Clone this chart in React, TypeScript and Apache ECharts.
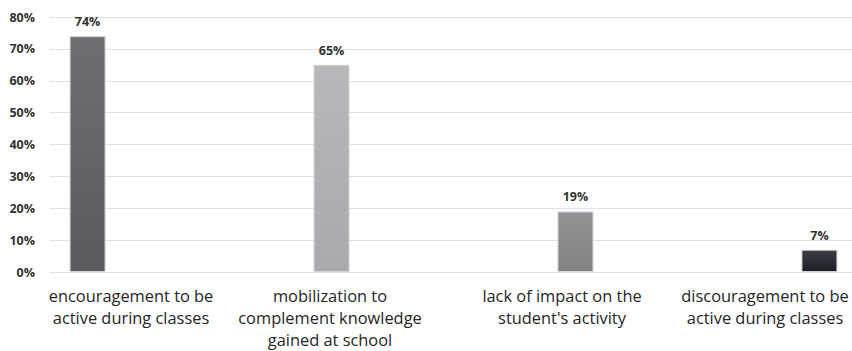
import React, { useEffect, useRef } from "react";
import * as echarts from "echarts";

const categories = [
  "encouragement to be\nactive during classes",
  "mobilization to\ncomplement knowledge\ngained at school",
  "lack of impact on the\nstudent's activity",
  "discouragement to be\nactive during classes",
];
const values = [74, 65, 19, 7];
const yTicks = [0, 10, 20, 30, 40, 50, 60, 70, 80];
const labelShift = [-6, -34, 4, -16];

const gradients = [
  ["#6f6f73", "#59595e"],
  ["#b6b8ba", "#a8aaad"],
  ["#939396", "#828285"],
  ["#3c3e44", "#1c1f26"],
];

export default function App() {
  const ref = useRef<HTMLDivElement>(null);
  useEffect(() => {
    if (!ref.current) return;
    const chart = echarts.init(ref.current, null, { renderer: "svg" });
    const font = "Open Sans";
    const series = values.map((v, i) => ({
      type: "bar",
      xAxisIndex: 0,
      yAxisIndex: 0,
      barWidth: 36,
      barGap: "-14%",
      data: values.map((_, j) => (j === i ? v : "-")),
      itemStyle: {
        color: new echarts.graphic.LinearGradient(0, 0, 0, 1, [
          { offset: 0, color: gradients[i][0] },
          { offset: 1, color: gradients[i][1] },
        ]),
        borderColor: "#d4d4d4",
        borderWidth: 1,
      },
      label: {
        show: true,
        position: "top",
        distance: 8,
        formatter: "{c}%",
        fontFamily: font,
        fontWeight: "bold",
        fontSize: 12.5,
        color: "#333",
      },
    }));
    const rich: any = {};
    labelShift.forEach((s, i) => {
      rich["c" + i] = {
        fontFamily: font,
        fontSize: 16.4,
        lineHeight: 22,
        color: "#262626",
        padding: s < 0 ? [0, -s, 0, 0] : [0, 0, 0, s],
      };
    });
    chart.setOption({
      animation: false,
      grid: [
        { left: 27.5, width: 852, top: 17, bottom: 79, outerBoundsMode: "none" },
        { left: 50, right: 0, top: 17, bottom: 79, outerBoundsMode: "none" },
      ],
      xAxis: [
        {
          type: "category",
          gridIndex: 0,
          data: categories,
          axisLine: { show: false },
          axisTick: { show: false },
          axisLabel: {
            interval: 0,
            margin: 12,
            formatter: (val: string, idx: number) =>
              val
                .split("\n")
                .map((l) => `{c${idx}|${l}}`)
                .join("\n"),
            rich,
          },
        },
        { type: "value", gridIndex: 1, show: false },
      ],
      yAxis: [
        { type: "value", gridIndex: 0, min: 0, max: 80, interval: 10, show: false },
        {
          type: "value",
          gridIndex: 1,
          min: yTicks[0],
          max: yTicks[yTicks.length - 1],
          interval: 10,
          axisLine: { show: false },
          axisTick: { show: false },
          splitLine: { lineStyle: { color: "#dde2ea", width: 1 } },
          axisLabel: {
            margin: 15,
            formatter: "{value}%",
            fontFamily: font,
            fontWeight: "bold",
            fontSize: 12.5,
            color: "#333",
          },
        },
      ],
      series,
    });
    return () => chart.dispose();
  }, []);
  return (
    <div
      ref={ref}
      style={{ position: "absolute", left: 0, top: 0, width: 852, height: 351 }}
    />
  );
}
